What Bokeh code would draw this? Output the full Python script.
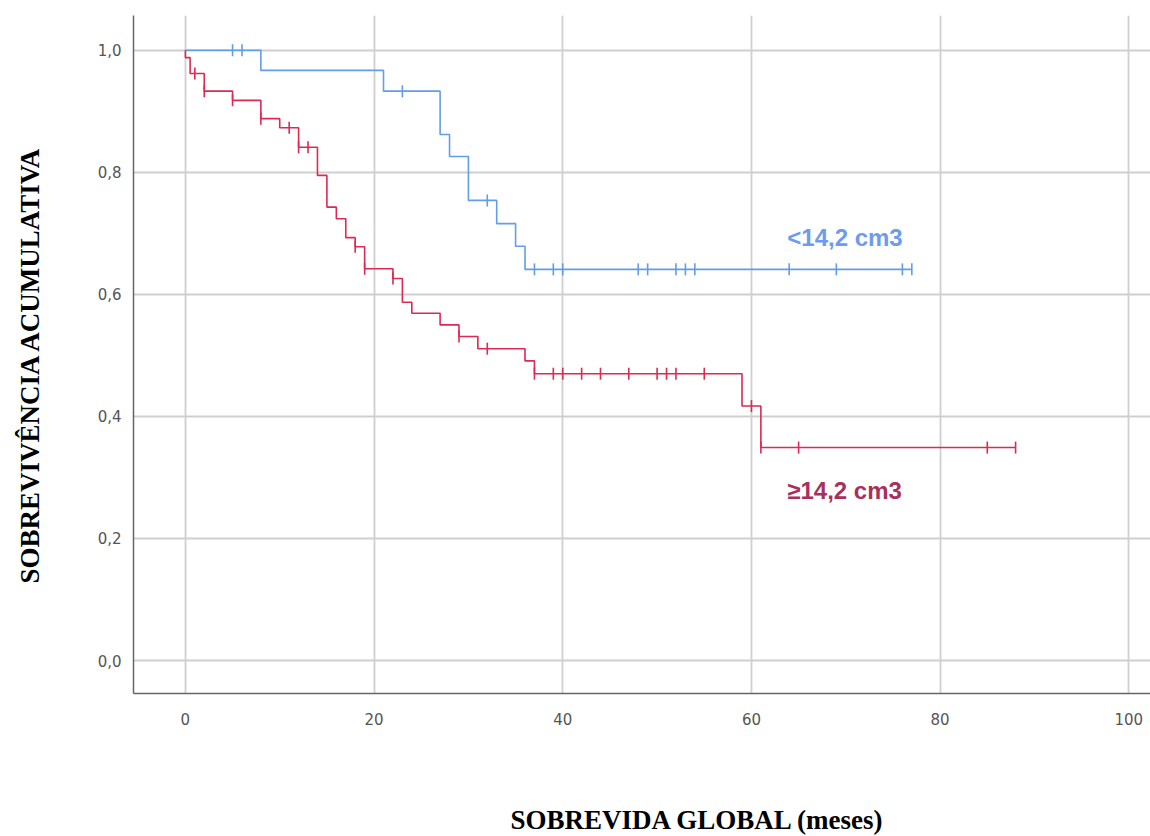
import numpy as np
from bokeh.plotting import figure
from bokeh.models import Range1d, FixedTicker, CustomJSTickFormatter, Label, Title
from bokeh.embed import file_html
from bokeh.resources import INLINE

# ---- data (Kaplan-Meier steps) ----
blue_start = 1.0
blue_event_times = [8, 21, 27, 28, 30, 33, 35, 36]
blue_surv = [0.967, 0.933, 0.862, 0.826, 0.754, 0.716, 0.679, 0.641]
blue_censor = [5, 6, 23, 32, 37, 39, 40, 48, 49, 52, 53, 54, 64, 69, 76, 77]
blue_end = 77

red_start = 1.0
red_event_times = [0, 0.5, 2, 5, 8, 10, 12, 14, 15, 16, 17, 18, 19, 22, 23, 24,
                   27, 29, 31, 36, 37, 59, 61]
red_surv = [0.988, 0.962, 0.933, 0.918, 0.888, 0.873, 0.841, 0.795, 0.743, 0.724,
            0.693, 0.678, 0.642, 0.626, 0.587, 0.569, 0.550, 0.531, 0.511, 0.491,
            0.470, 0.417, 0.349]
red_censor = [1, 2, 5, 8, 11, 12, 13, 18, 19, 22, 29, 32, 37, 39, 40, 42, 44, 47,
              50, 51, 52, 55, 60, 61, 65, 85, 88]
red_end = 88

x_ticks = [0, 20, 40, 60, 80, 100]
y_ticks = [0.0, 0.2, 0.4, 0.6, 0.8, 1.0]

label_blue = "<14,2 cm3"
label_red = "\u226514,2 cm3"
x_title = "SOBREVIDA GLOBAL (meses)"
y_title = "SOBREVIV\u00caNCIA ACUMULATIVA"

BLUE = "#629de9"
RED = "#dc2a52"
BLUE_TXT = "#6b9cf0"
RED_TXT = "#a8305c"


def step_path(start, times, surv, end):
    xs, ys = [0.0], [start]
    prev = start
    for t, s in zip(times, surv):
        xs += [t, t]
        ys += [prev, s]
        prev = s
    xs.append(end)
    ys.append(prev)
    return xs, ys


def surv_at(t, start, times, surv):
    v = start
    for tt, s in zip(times, surv):
        if tt <= t:
            v = s
    return v


p = figure(width=1150, height=836, output_backend="svg", toolbar_location=None,
           x_range=Range1d(-5.5, 102.3), y_range=Range1d(-0.054, 1.057),
           min_border_left=133, min_border_top=15, min_border_right=0,
           min_border_bottom=143)
p.outline_line_color = None
p.background_fill_color = "white"
p.border_fill_color = "white"

# grid
p.xgrid.ticker = FixedTicker(ticks=x_ticks)
p.ygrid.ticker = FixedTicker(ticks=y_ticks)
for g in (p.xgrid, p.ygrid):
    g.grid_line_color = "#cfcfcf"
    g.grid_line_width = 1.8

# axes
p.xaxis.ticker = FixedTicker(ticks=x_ticks)
p.yaxis.ticker = FixedTicker(ticks=y_ticks)
p.yaxis.formatter = CustomJSTickFormatter(code="return tick.toFixed(1).replace('.', ',');")
for ax in (p.xaxis, p.yaxis):
    ax.major_tick_line_color = None
    ax.minor_tick_line_color = None
    ax.axis_line_color = "#666666"
    ax.axis_line_width = 1.5
    ax.major_label_text_font = "DejaVu Sans"
    ax.major_label_text_font_size = "15px"
    ax.major_label_text_color = "#555555"
p.xaxis.major_label_standoff = 13
p.yaxis.major_label_standoff = 6

# axis titles as side titles, offset to where the reference has them
title_kw = dict(text_font="Liberation Serif", text_font_style="bold",
                text_font_size="27px", text_color="#000000", align="left",
                standoff=0)
p.add_layout(Title(text=x_title, offset=377, vertical_align="top",
                   padding=dict(left=0, right=0, top=77, bottom=0), **title_kw), "below")
p.add_layout(Title(text=y_title, offset=110, vertical_align="bottom",
                   padding=dict(left=0, right=0, top=0, bottom=50), **title_kw), "left")

# curves
bx, by = step_path(blue_start, blue_event_times, blue_surv, blue_end)
rx, ry = step_path(red_start, red_event_times, red_surv, red_end)
p.line(bx, by, line_color=BLUE, line_width=1.6)
p.line(rx, ry, line_color=RED, line_width=1.6)

bcy = [surv_at(t, blue_start, blue_event_times, blue_surv) for t in blue_censor]
rcy = [surv_at(t, red_start, red_event_times, red_surv) for t in red_censor]
p.scatter(blue_censor, bcy, marker="dash", angle=np.pi / 2, size=12,
          line_color=BLUE, line_width=1.6)
p.scatter(red_censor, rcy, marker="dash", angle=np.pi / 2, size=12,
          line_color=RED, line_width=1.6)

# group labels
p.add_layout(Label(x=63.8, y=0.693, text=label_blue, text_color=BLUE_TXT,
                   text_font="Liberation Sans", text_font_style="bold",
                   text_font_size="24px", text_baseline="middle", text_align="left"))
p.add_layout(Label(x=63.8, y=0.279, text=label_red, text_color=RED_TXT,
                   text_font="Liberation Sans", text_font_style="bold",
                   text_font_size="24px", text_baseline="middle", text_align="left"))

open("out.html", "w").write(file_html(p, INLINE))
